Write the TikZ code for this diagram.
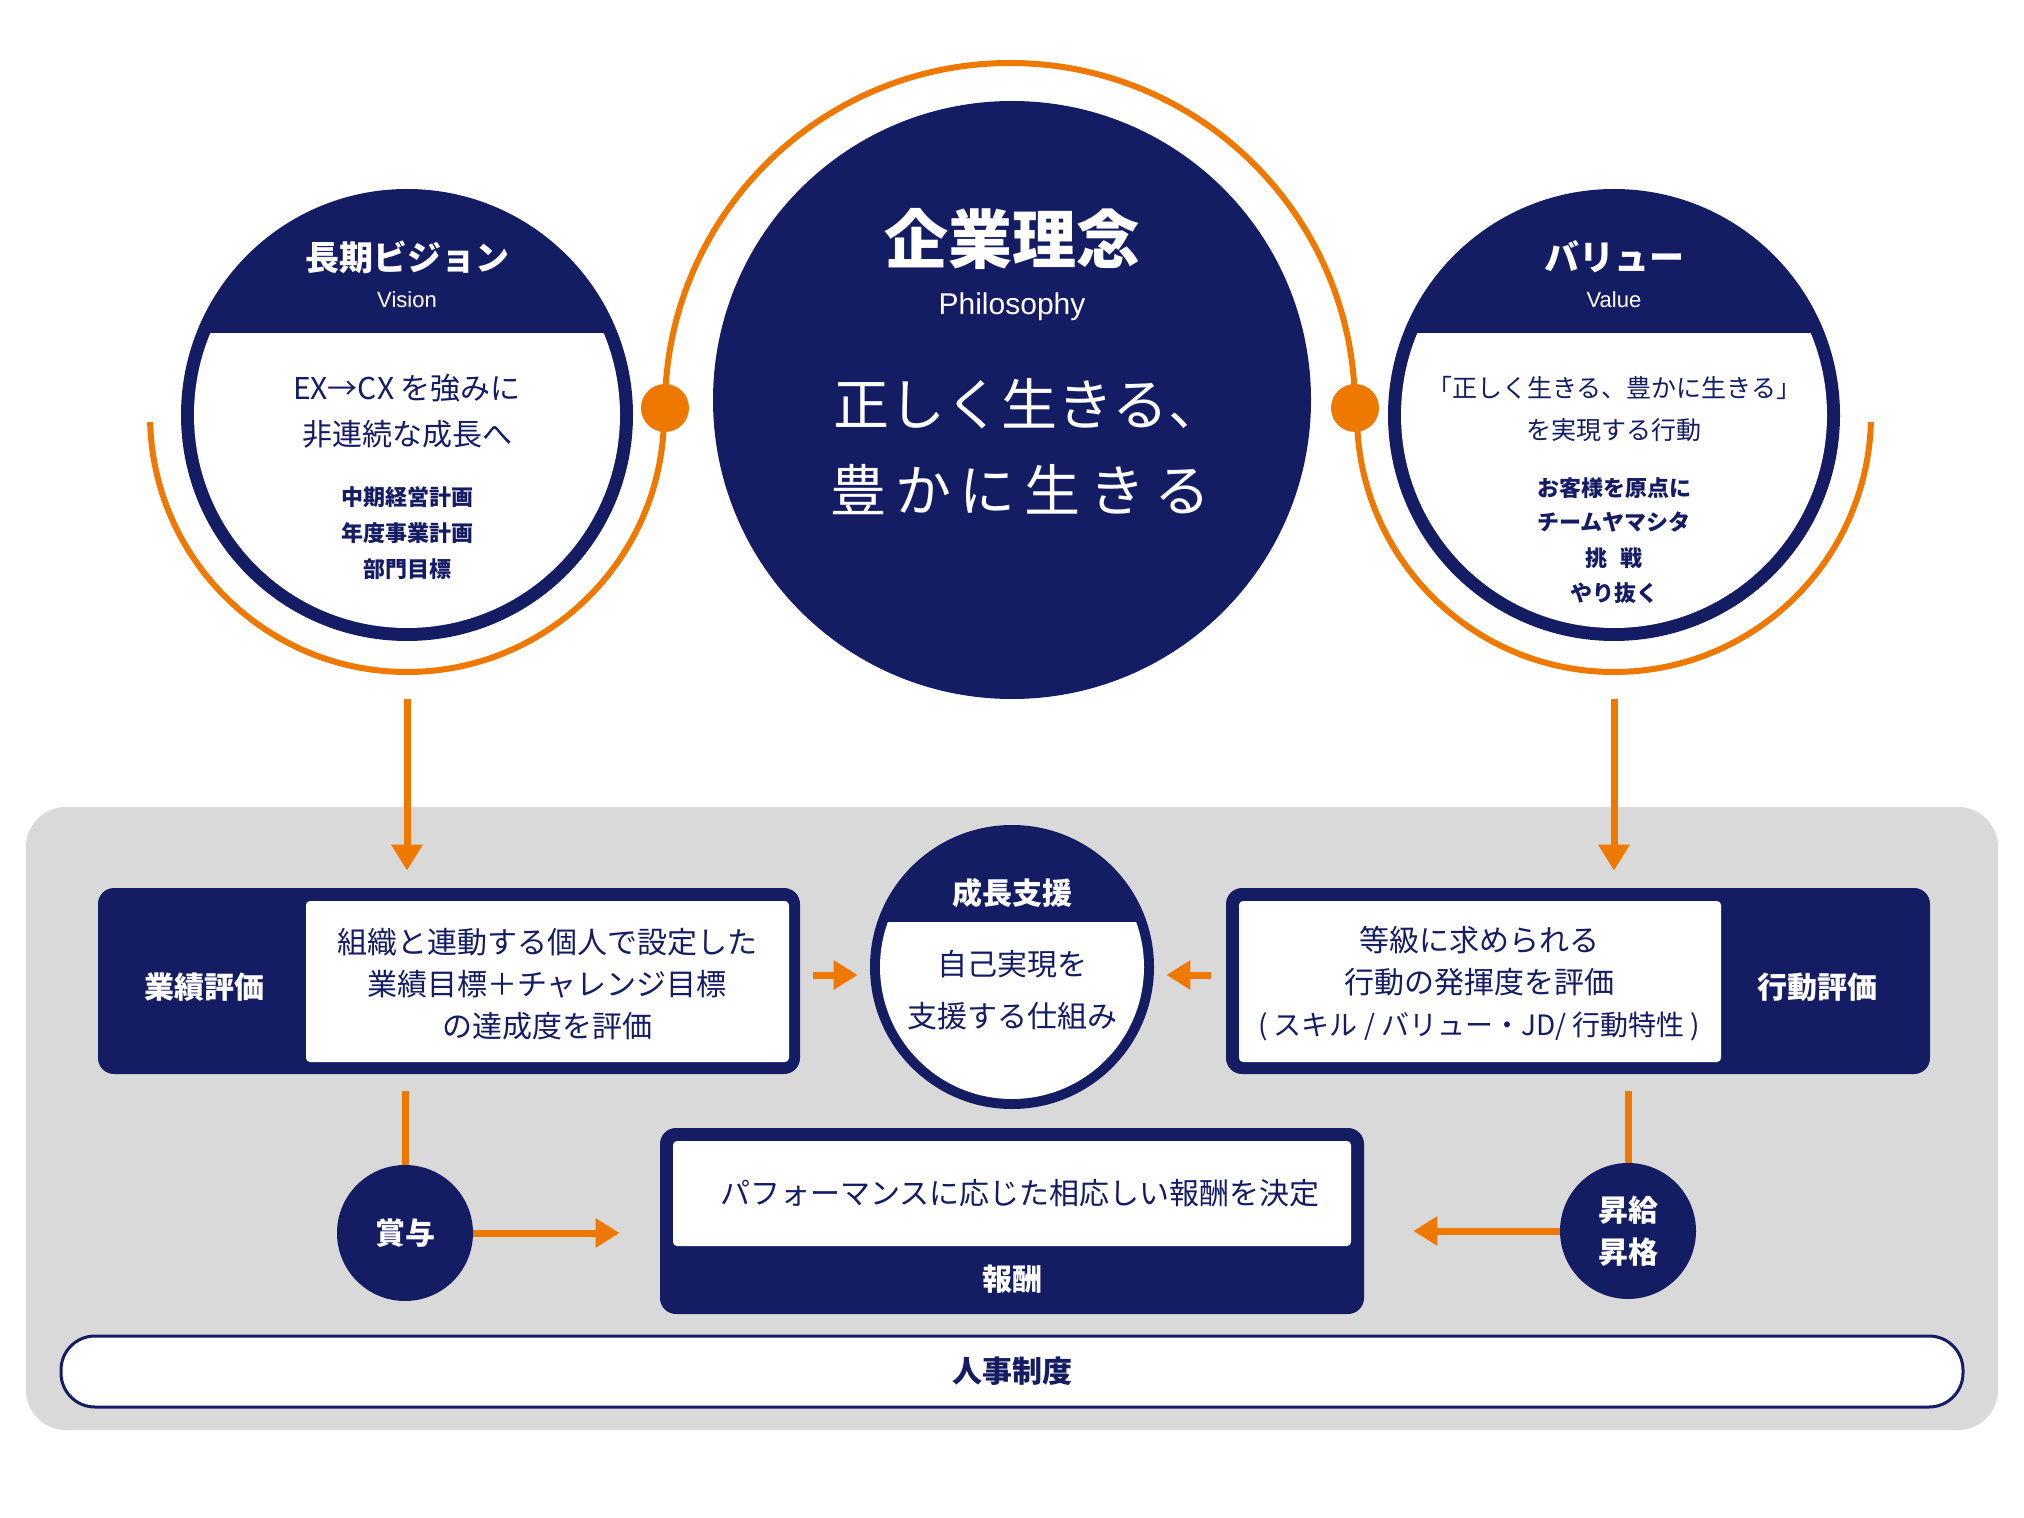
\documentclass[tikz,border=0pt]{standalone}
\usepackage{fontspec}
\setmainfont{Noto Sans CJK JP}
\newfontfamily\lat{Liberation Sans}
\usetikzlibrary{arrows.meta,calc}
\definecolor{navy}{RGB}{20,28,100}
\definecolor{orng}{RGB}{238,120,0}
\definecolor{bggray}{RGB}{217,217,217}
\newcommand{\fsz}[2]{\fontsize{#1}{#2}\selectfont}
\tikzset{
  navycirc/.style={circle,fill=navy,inner sep=0pt,minimum size=#1},
  navybox/.style={rectangle,fill=navy,inner sep=0pt,rounded corners=8pt},
  orngdot/.style={circle,fill=orng,inner sep=0pt,minimum size=24pt},
  arcline/.style={draw=orng,line width=3pt},
  orngline/.style={draw=orng,line width=3.5pt},
  harr/.style={orngline,-{Triangle[length=12pt,width=14pt]}},
  varr/.style={orngline,-{Triangle[length=13pt,width=15pt]}},
  wbold/.style={text=white,font=\bfseries\fsz{15}{21}},
  nbody/.style={text=navy,font=\fsz{15}{21},align=center,inner sep=0pt},
  nsmall/.style={text=navy,font=\bfseries\fsz{11}{13},inner sep=0pt},
}
\begin{document}
\begin{tikzpicture}[x=0.5pt,y=-0.5pt]
\useasboundingbox (0,0) rectangle (2024,1518);
\fill[white] (0,0) rectangle (2024,1518);
% gray panel
\fill[bggray,rounded corners=20pt] (26,807) rectangle (1998,1430);

% orange arcs
\draw[arcline] (665,408) arc[start angle=180,end angle=0,radius=172.5pt];
\draw[arcline] ($(407,415)+(181.6:128.5pt)$) arc[start angle=181.6,end angle=361.6,radius=128.5pt];
\draw[arcline] ($(1614,415)+(178.4:128.5pt)$) arc[start angle=178.4,end angle=358.4,radius=128.5pt];
\node[orngdot] (dotL) at (665,408) {};
\node[orngdot] (dotR) at (1355,408) {};

% central philosophy circle
\node[navycirc=299pt] (phil) at (1012,400) {};
\node[text=white,font=\bfseries\fsz{32}{36},inner sep=0pt] (philT) at (1012,239) {企業理念};
\node[text=white,font=\lat\fsz{15}{18},inner sep=0pt] (philE) at (1012,307) {Philosophy};
\node[text=white,font=\fsz{28}{32},inner sep=0pt,anchor=west] (philL1) at (833,404) {正しく生きる、};
\node[text=white,font=\fsz{28}{32},inner sep=0pt,anchor=west] (philL2) at (830,490) {\makebox[190pt]{豊\hfill か\hfill に\hfill 生\hfill き\hfill る}};

% vision circle
\node[navycirc=226pt] (vision) at (407,415) {};
\begin{scope}
  \clip (100,334) rectangle (700,700);
  \fill[white] (vision.center) circle[radius=106.5pt];
\end{scope}
\node[text=white,font=\bfseries\fsz{17}{20},inner sep=0pt] (visT) at (407,257) {長期ビジョン};
\node[text=white,font=\lat\fsz{11}{13},inner sep=0pt] (visE) at (407,300) {Vision};
\node[nbody] (visL1) at (407,388) {EX→CX を強みに};
\node[nbody] (visL2) at (407,434) {非連続な成長へ};
\node[nsmall] (visS1) at (407,497) {中期経営計画};
\node[nsmall] (visS2) at (407,533) {年度事業計画};
\node[nsmall] (visS3) at (407,569) {部門目標};

% value circle
\node[navycirc=226pt] (value) at (1614,415) {};
\begin{scope}
  \clip (1300,334) rectangle (1920,700);
  \fill[white] (value.center) circle[radius=106.5pt];
\end{scope}
\node[text=white,font=\bfseries\fsz{17.5}{20},inner sep=0pt] (valT) at (1614,257) {バリュー};
\node[text=white,font=\lat\fsz{11}{13},inner sep=0pt] (valE) at (1614,300) {Value};
\node[nbody,font=\fsz{12.5}{16}] (valL1) at (1614,388) {「正しく生きる、豊かに生きる」};
\node[nbody,font=\fsz{12.5}{16}] (valL2) at (1614,430) {を実現する行動};
\node[nsmall] (valS1) at (1614,488) {お客様を原点に};
\node[nsmall] (valS2) at (1614,522) {チームヤマシタ};
\node[nsmall] (valS3) at (1614,558) {挑\hspace{0.6em}戦};
\node[nsmall] (valS4) at (1614,593) {やり抜く};

% performance evaluation box
\node[navybox,minimum width=351pt,minimum height=93pt] (gyoseki) at (449,981) {};
\fill[white,rounded corners=2pt] (306,901) rectangle (789,1062);
\node[wbold] (gyosekiT) at (204,987) {業績評価};
\node[nbody] (gyosekiB) at (547,984) {組織と連動する個人で設定した\\業績目標＋チャレンジ目標\\の達成度を評価};

% growth support circle
\node[navycirc=142pt] (growth) at (1012,967) {};
\begin{scope}
  \clip (850,922) rectangle (1180,1120);
  \fill[white] (growth.center) circle[radius=66pt];
\end{scope}
\node[wbold] (growthT) at (1012,893) {成長支援};
\node[nbody] (growthL1) at (1012,964) {自己実現を};
\node[nbody] (growthL2) at (1012,1016) {支援する仕組み};

% behaviour evaluation box
\node[navybox,minimum width=352pt,minimum height=93pt] (kodo) at (1578,981) {};
\fill[white,rounded corners=2pt] (1239,901) rectangle (1721,1062);
\node[wbold] (kodoT) at (1817,987) {行動評価};
\node[nbody] (kodoB) at (1479,984) {等級に求められる\\行動の発揮度を評価\\{\fsz{14}{21}( スキル / バリュー・JD/ 行動特性 )}};

% remuneration box
\node[navybox,minimum width=352pt,minimum height=93pt] (hoshu) at (1012,1221) {};
\fill[white,rounded corners=2pt] (673,1141) rectangle (1351,1246);
\node[nbody] (hoshuB) at (1020,1193) {パフォーマンスに応じた相応しい報酬を決定};
\node[wbold] (hoshuT) at (1012,1279) {報酬};

% bonus / promotion circles
\node[navycirc=68pt] (shoyo) at (405,1233) {};
\node[wbold] (shoyoT) at (405,1233) {賞与};
\node[navycirc=68pt] (shokyu) at (1628,1231) {};
\node[wbold,align=center] (shokyuT) at (1628,1231) {昇給\\昇格};

% HR system bar
\node[rectangle,draw=navy,line width=1.5pt,fill=white,rounded corners=17pt,minimum width=951pt,minimum height=35.5pt] (jinji) at (1012,1371.5) {};
\node[text=navy,font=\bfseries\fsz{15}{18}] (jinjiT) at (jinji.center) {人事制度};

% connectors
\draw[varr] ($(vision.south)+(0,58)$) -- ($(vision.south |- gyoseki.north)+(0,-17)$);
\draw[varr] ($(value.south)+(0,58)$) -- ($(value.south |- kodo.north)+(0,-17)$);
\draw[harr] ($(gyoseki.east)+(13,-6)$) -- ($(growth.west)+(-12,8)$);
\draw[harr] ($(kodo.west)+(-15,-6)$) -- ($(growth.east)+(12,8)$);
\draw[orngline] ($(gyoseki.south -| shoyo.north)+(0,17)$) -- (shoyo.north);
\draw[harr] (shoyo.east) -- ($(hoshu.west |- shoyo.east)+(-40,0)$);
\draw[orngline] ($(kodo.south -| shokyu.north)+(0,17)$) -- (shokyu.north);
\draw[harr] (shokyu.west) -- ($(hoshu.east |- shokyu.west)+(49,0)$);
\end{tikzpicture}
\end{document}
